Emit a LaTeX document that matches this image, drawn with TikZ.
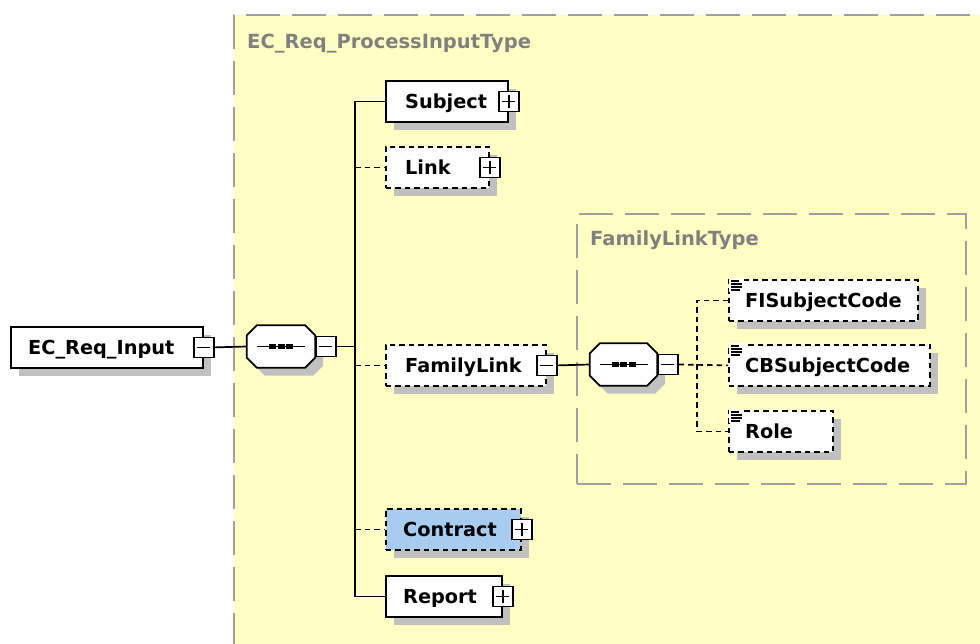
\documentclass[tikz,border=0pt]{standalone}
\usepackage{fontspec}
\setmainfont{DejaVu Sans}
\usetikzlibrary{shadows}
\definecolor{bgyellow}{RGB}{255,255,196}
\definecolor{typegray}{RGB}{160,160,160}
\definecolor{lblgray}{RGB}{128,128,128}
\definecolor{shgray}{RGB}{192,192,192}
\definecolor{cblue}{RGB}{168,204,240}
\newcommand{\octpath}[1]{([xshift=10pt]#1.north west) -- ([xshift=-10pt]#1.north east) -- ([yshift=-10pt]#1.north east) -- ([yshift=10pt]#1.south east) -- ([xshift=-10pt]#1.south east) -- ([xshift=10pt]#1.south west) -- ([yshift=10pt]#1.south west) -- ([yshift=-10pt]#1.north west) -- cycle}
\tikzset{
  shad/.style={drop shadow={shadow xshift=8pt,shadow yshift=-8pt,fill=shgray,opacity=1}},
  elem/.style={draw=black,line width=1.8pt,fill=white,minimum height=41pt,inner sep=0pt,anchor=north west,shad},
  optelem/.style={elem,dash pattern=on 5.5pt off 4pt},
  txt/.style={font=\bfseries\fontsize{19.3}{22}\selectfont,inner sep=0pt,anchor=base west},
  typelbl/.style={font=\bfseries\fontsize{19.5}{22}\selectfont,text=lblgray,inner sep=0pt,anchor=base west},
  typebox/.style={draw=typegray,line width=2pt,dash pattern=on 34pt off 12pt,inner sep=0pt,anchor=north west},
  expbox/.style={draw=black,line width=1.5pt,fill=white,minimum size=20pt,inner sep=0pt},
  minusbox/.style={expbox,path picture={\draw[line width=1.6pt] ([xshift=-6.5pt]path picture bounding box.center) -- ([xshift=6.5pt]path picture bounding box.center);}},
  plusbox/.style={expbox,path picture={\draw[line width=1.6pt] ([xshift=-6.5pt]path picture bounding box.center) -- ([xshift=6.5pt]path picture bounding box.center) ([yshift=-6.5pt]path picture bounding box.center) -- ([yshift=6.5pt]path picture bounding box.center);}},
  seqbase/.style={minimum width=68pt,minimum height=42pt,inner sep=0pt},
  seqline/.style={draw=black,line width=1.8pt,fill=white,shad},
  conn/.style={line width=1.7pt,draw=black},
  optconn/.style={conn,dash pattern=on 5.5pt off 4pt},
  docicon/.pic={\fill[white] (1,-1) rectangle (16,13);
    \foreach \yy/\ww in {2/8,5/11,8/11,11/9} \draw[line width=1.1pt] (3,\yy) -- ++(\ww,0);}
}
\begin{document}
\begin{tikzpicture}[x=1pt,y=-1pt]
\useasboundingbox (0,0) rectangle (980,644);
\fill[white] (0,0) rectangle (980,644);
% outer type container
\node[typebox,fill=bgyellow,minimum width=800pt,minimum height=700pt] (ptype) at (233,14) {};
\node[typelbl] (ptypeL) at (247,49) {EC\_Req\_ProcessInputType};
% inner type container
\node[typebox,minimum width=389pt,minimum height=270pt] (flt) at (576,213) {};
\node[typelbl] (fltL) at (590,246) {FamilyLinkType};

% root element
\node[elem,minimum width=192pt] (ec) at (10,326) {};
\node[txt] (ecT) at ([xshift=18pt,yshift=-7pt]ec.west) {EC\_Req\_Input};
\node[minusbox] (ecm) at (ec.east) {};

% sequence 1
\node[seqbase] (seq1) at (281,346.5) {};
\draw[seqline] \octpath{seq1};
\draw[line width=1.6pt] ([xshift=-24pt]seq1.center) -- ([xshift=24pt]seq1.center);
\foreach \dx in {-8.5,0,8.5} \fill ([xshift=\dx pt]seq1.center) ++(-3.5,-2.5) rectangle ++(7,5);
\node[minusbox,anchor=west] (seq1m) at (seq1.east) {};

% children
\node[elem,minimum width=122pt] (subj) at (385,80) {};
\node[txt] (subjT) at ([xshift=20pt,yshift=-7pt]subj.west) {Subject};
\node[plusbox] (subjp) at (subj.east) {};

\node[optelem,minimum width=103pt] (link) at (385,146) {};
\node[txt] (linkT) at ([xshift=20pt,yshift=-7pt]link.west) {Link};
\node[plusbox] (linkp) at (link.east) {};

\node[optelem,minimum width=160pt] (fam) at (385,344) {};
\node[txt] (famT) at ([xshift=20pt,yshift=-7pt]fam.west) {FamilyLink};
\node[minusbox] (famm) at (fam.east) {};

\node[optelem,fill=cblue,minimum width=135pt] (contr) at (385,508) {};
\node[txt] (contrT) at ([xshift=18pt,yshift=-7pt]contr.west) {Contract};
\node[plusbox] (contrp) at (contr.east) {};

\node[elem,minimum width=116pt] (rep) at (385,575) {};
\node[txt] (repT) at ([xshift=18pt,yshift=-7pt]rep.west) {Report};
\node[plusbox] (repp) at (rep.east) {};

% sequence 2
\node[seqbase,minimum width=67pt] (seq2) at (623.5,364.5) {};
\draw[seqline] \octpath{seq2};
\draw[line width=1.6pt] ([xshift=-24pt]seq2.center) -- ([xshift=24pt]seq2.center);
\foreach \dx in {-8.5,0,8.5} \fill ([xshift=\dx pt]seq2.center) ++(-3.5,-2.5) rectangle ++(7,5);
\node[minusbox,anchor=west] (seq2m) at (seq2.east) {};

% leaves
\node[optelem,minimum width=189pt] (fisc) at (728,279) {};
\pic at (fisc.north west) {docicon};
\node[txt] (fiscT) at ([xshift=17pt,yshift=-7pt]fisc.west) {FISubjectCode};

\node[optelem,minimum width=201pt] (cbsc) at (728,344) {};
\pic at (cbsc.north west) {docicon};
\node[txt] (cbscT) at ([xshift=17pt,yshift=-7pt]cbsc.west) {CBSubjectCode};

\node[optelem,minimum width=104pt] (role) at (728,410) {};
\pic at (role.north west) {docicon};
\node[txt] (roleT) at ([xshift=17pt,yshift=-7pt]role.west) {Role};

% connectors
\coordinate (tx) at (355,0);
\coordinate (tx2) at (697,0);
\draw[conn] (ecm.east) -- (seq1.west);
\draw[conn] (seq1m.east) -- (seq1m.east -| tx);
\draw[conn] (subj.west) -| (tx |- rep.west) -- (rep.west);
\draw[optconn] (link.west -| tx) -- (link.west);
\draw[optconn] (fam.west -| tx) -- (fam.west);
\draw[optconn] (contr.west -| tx) -- (contr.west);
\draw[conn] (famm.east) -- (seq2.west);
\draw[optconn] (seq2m.east) -- (cbsc.west);
\draw[optconn] (fisc.west) -| (tx2 |- role.west) -- (role.west);
\end{tikzpicture}
\end{document}
